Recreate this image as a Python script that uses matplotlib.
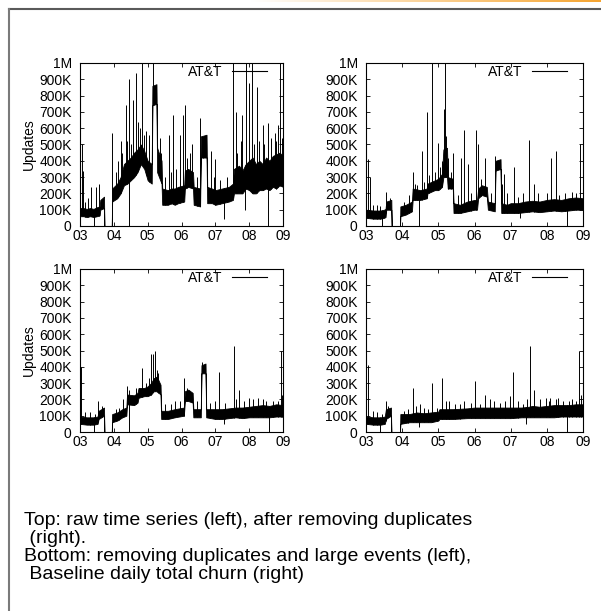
import numpy as np
import matplotlib
matplotlib.use("Agg")
import matplotlib.pyplot as plt
from matplotlib.lines import Line2D
from matplotlib.colors import LinearSegmentedColormap

plt.rcParams['font.family'] = ['Liberation Sans', 'DejaVu Sans']

# values are thousands of updates per day; band = daily low/high envelope
year_ticks = [2003, 2004, 2005, 2006, 2007, 2008, 2009]
year_labels = ['03', '04', '05', '06', '07', '08', '09']
update_ticks = [0, 100, 200, 300, 400, 500, 600, 700, 800, 900, 1000]
update_labels = ['0', '100K', '200K', '300K', '400K', '500K',
                 '600K', '700K', '800K', '900K', '1M']
series_name = 'AT&T'

# --- raw time series (top left) ---
raw_t = [2003.0, 2003.1, 2003.2, 2003.3, 2003.4, 2003.5, 2003.58, 2003.6, 2003.71, 2003.72,
         2003.94, 2003.95, 2004.1, 2004.2, 2004.3, 2004.4, 2004.5, 2004.6, 2004.7, 2004.8,
         2004.9, 2005.0, 2005.12, 2005.14, 2005.26, 2005.28, 2005.41, 2005.43, 2005.6, 2005.7,
         2005.8, 2005.9, 2006.08, 2006.1, 2006.2, 2006.34, 2006.36, 2006.55, 2006.57, 2006.74,
         2006.76, 2006.9, 2007.0, 2007.2, 2007.4, 2007.52, 2007.55, 2007.7, 2007.8, 2007.9,
         2008.0, 2008.1, 2008.2, 2008.3, 2008.4, 2008.5, 2008.6, 2008.7, 2008.8, 2008.9,
         2009.0]
raw_low = [60, 60, 55, 60, 55, 60, 65, 100, 110, 0,
           0, 150, 170, 200, 250, 260, 280, 300, 330, 380,
           350, 280, 260, 740, 750, 330, 260, 130, 130, 140,
           130, 140, 150, 230, 240, 230, 130, 120, 420, 420,
           140, 140, 130, 140, 150, 160, 200, 200, 200, 230,
           220, 200, 200, 220, 220, 230, 220, 240, 230, 250,
           240]
raw_high = [110, 110, 105, 110, 105, 115, 120, 160, 180, 0,
            0, 230, 260, 300, 380, 400, 420, 450, 470, 500,
            460, 400, 380, 860, 870, 480, 400, 230, 220, 230,
            230, 240, 250, 340, 350, 330, 240, 230, 550, 560,
            240, 230, 220, 230, 240, 260, 350, 370, 340, 380,
            400, 420, 380, 400, 380, 420, 400, 430, 440, 450,
            430]
raw_spike_t = [2003.05, 2003.08, 2003.15, 2003.25, 2003.32, 2003.48, 2003.55, 2003.95,
               2004.05, 2004.12, 2004.2, 2004.25, 2004.35, 2004.4, 2004.45, 2004.52,
               2004.58, 2004.65, 2004.72, 2004.78, 2004.82, 2004.88, 2004.95, 2005.05,
               2005.17, 2005.35, 2005.4, 2005.52, 2005.62, 2005.68, 2005.75, 2005.85,
               2005.95, 2006.05, 2006.1, 2006.15, 2006.25, 2006.3, 2006.45, 2006.55,
               2006.63, 2006.88, 2006.95, 2007.0, 2007.15, 2007.35, 2007.53, 2007.6,
               2007.65, 2007.75, 2007.8, 2007.92, 2008.0, 2008.08, 2008.15, 2008.22,
               2008.3, 2008.4, 2008.45, 2008.55, 2008.65, 2008.75, 2008.8, 2008.85,
               2008.92, 2008.97]
raw_spike_v = [500, 340, 150, 170, 240, 240, 260, 570,
               330, 400, 520, 450, 740, 520, 900, 500,
               770, 940, 640, 600, 1100, 560, 580, 560,
               1100, 540, 450, 300, 560, 330, 680, 350,
               560, 680, 740, 420, 450, 500, 300, 660,
               520, 460, 300, 410, 280, 300, 1100, 700,
               450, 520, 680, 1100, 880, 1100, 500, 850,
               520, 620, 500, 630, 540, 570, 520, 620,
               1100, 540]
raw_dip_t = [2003.42, 2004.46, 2007.27, 2007.88, 2008.57]
raw_dip_v = [0, 0, 45, 100, 0]

# --- duplicates removed (top right) ---
nodup_t = [2003.0, 2003.2, 2003.4, 2003.5, 2003.54, 2003.56, 2003.7, 2003.71, 2003.94, 2003.95,
           2004.1, 2004.27, 2004.29, 2004.5, 2004.68, 2004.7, 2004.9, 2005.0, 2005.1, 2005.14,
           2005.24, 2005.26, 2005.4, 2005.42, 2005.6, 2005.8, 2006.0, 2006.07, 2006.1, 2006.2,
           2006.34, 2006.37, 2006.56, 2006.58, 2006.72, 2006.74, 2006.9, 2007.0, 2007.2, 2007.4,
           2007.6, 2007.8, 2008.0, 2008.2, 2008.4, 2008.6, 2008.8, 2009.0]
nodup_low = [50, 45, 45, 50, 55, 100, 100, 0, 0, 60,
             70, 90, 160, 160, 170, 200, 220, 220, 240, 300,
             300, 230, 230, 80, 80, 90, 100, 100, 170, 190,
             180, 100, 90, 340, 350, 80, 80, 80, 80, 85,
             90, 85, 90, 95, 90, 95, 100, 100]
nodup_high = [100, 95, 95, 100, 105, 150, 160, 0, 0, 120,
              130, 150, 230, 220, 230, 260, 280, 290, 320, 470,
              480, 300, 290, 140, 130, 150, 160, 160, 230, 250,
              240, 150, 140, 400, 410, 140, 130, 140, 140, 150,
              155, 150, 160, 165, 160, 170, 175, 170]
nodup_spike_t = [2003.06, 2003.12, 2003.2, 2003.3, 2003.4, 2003.55, 2003.65, 2004.05,
                 2004.2, 2004.31, 2004.36, 2004.42, 2004.54, 2004.6, 2004.68, 2004.75,
                 2004.82, 2004.9, 2004.98, 2005.05, 2005.1, 2005.16, 2005.18, 2005.22,
                 2005.28, 2005.35, 2005.41, 2005.55, 2005.63, 2005.71, 2005.83, 2005.9,
                 2006.03, 2006.11, 2006.18, 2006.3, 2006.45, 2006.57, 2006.75, 2006.82,
                 2006.9, 2007.08, 2007.2, 2007.35, 2007.52, 2007.65, 2007.75, 2008.0,
                 2008.12, 2008.24, 2008.35, 2008.5, 2008.7, 2008.8, 2008.91]
nodup_spike_v = [410, 300, 130, 130, 120, 210, 170, 150,
                 190, 330, 260, 250, 460, 270, 700, 310,
                 1100, 330, 510, 360, 400, 720, 1100, 550,
                 420, 330, 450, 190, 420, 590, 380, 200,
                 590, 500, 290, 420, 200, 430, 260, 320,
                 200, 360, 180, 200, 530, 260, 200, 200,
                 420, 460, 190, 200, 210, 200, 500]
nodup_dip_t = [2003.43, 2004.46, 2007.27, 2008.56]
nodup_dip_v = [0, 0, 50, 0]

# --- duplicates and large events removed (bottom left) ---
clean_t = [2003.0, 2003.2, 2003.4, 2003.52, 2003.55, 2003.71, 2003.72, 2003.94, 2003.95, 2004.1,
           2004.25, 2004.37, 2004.39, 2004.6, 2004.7, 2004.73, 2004.9, 2005.0, 2005.1, 2005.18,
           2005.27, 2005.38, 2005.4, 2005.6, 2005.8, 2006.07, 2006.1, 2006.2, 2006.33, 2006.35,
           2006.57, 2006.59, 2006.71, 2006.73, 2007.0, 2007.2, 2007.4, 2007.6, 2007.8, 2008.0,
           2008.2, 2008.4, 2008.6, 2008.8, 2009.0]
clean_low = [50, 45, 45, 50, 80, 100, 0, 0, 60, 70,
             90, 100, 170, 165, 180, 210, 220, 220, 230, 250,
             250, 230, 80, 80, 90, 100, 190, 190, 180, 90,
             90, 360, 360, 90, 80, 80, 85, 90, 85, 90,
             90, 90, 90, 95, 95]
clean_high = [95, 90, 90, 95, 130, 150, 0, 0, 110, 120,
              140, 150, 230, 225, 240, 270, 270, 280, 300, 330,
              340, 290, 130, 130, 140, 150, 250, 260, 240, 140,
              140, 410, 420, 140, 140, 140, 145, 150, 150, 155,
              160, 165, 160, 170, 165]
clean_spike_t = [2003.04, 2003.15, 2003.29, 2003.45, 2003.53, 2003.65, 2004.05, 2004.15,
                 2004.26, 2004.4, 2004.45, 2004.65, 2004.82, 2004.95, 2005.05, 2005.1,
                 2005.15, 2005.23, 2005.28, 2005.32, 2005.5, 2005.7, 2005.81, 2005.95,
                 2006.06, 2006.15, 2006.31, 2006.45, 2006.6, 2006.85, 2007.0, 2007.1,
                 2007.3, 2007.54, 2007.6, 2007.69, 2007.85, 2007.99, 2008.1, 2008.25,
                 2008.4, 2008.5, 2008.7, 2008.85, 2008.93, 2008.97]
clean_spike_v = [400, 120, 120, 110, 190, 160, 140, 150,
                 200, 280, 260, 270, 390, 300, 330, 480,
                 480, 500, 380, 360, 170, 170, 190, 190,
                 330, 270, 230, 190, 430, 180, 190, 370,
                 180, 530, 200, 260, 190, 210, 200, 210,
                 200, 190, 190, 190, 500, 230]
clean_dip_t = [2003.4, 2004.46, 2007.27, 2008.58]
clean_dip_v = [0, 0, 50, 0]

# --- baseline daily churn (bottom right) ---
base_t = [2003.0, 2003.2, 2003.4, 2003.52, 2003.55, 2003.69, 2003.7, 2003.94, 2003.95, 2004.2,
          2004.4, 2004.6, 2004.8, 2005.0, 2005.03, 2005.4, 2005.8, 2006.0, 2006.4, 2006.8,
          2007.0, 2007.3, 2007.5, 2007.6, 2007.8, 2008.0, 2008.2, 2008.4, 2008.6, 2008.8,
          2009.0]
base_low = [50, 45, 45, 50, 80, 100, 0, 0, 50, 60,
            60, 60, 60, 70, 80, 80, 85, 85, 85, 85,
            85, 90, 90, 90, 90, 90, 90, 95, 95, 95,
            95]
base_high = [95, 90, 90, 95, 140, 150, 0, 0, 110, 110,
             120, 115, 120, 125, 140, 140, 145, 150, 150, 150,
             150, 150, 155, 160, 155, 160, 165, 165, 165, 170,
             170]
base_spike_t = [2003.06, 2003.18, 2003.3, 2003.45, 2003.54, 2003.62, 2004.05, 2004.15,
                2004.3, 2004.38, 2004.49, 2004.6, 2004.72, 2004.83, 2004.95, 2005.1,
                2005.2, 2005.3, 2005.45, 2005.6, 2005.72, 2005.9, 2006.02, 2006.15,
                2006.3, 2006.42, 2006.55, 2006.7, 2006.85, 2006.98, 2007.07, 2007.2,
                2007.35, 2007.45, 2007.53, 2007.65, 2007.8, 2007.97, 2008.05, 2008.1,
                2008.25, 2008.3, 2008.45, 2008.6, 2008.7, 2008.8, 2008.9, 2008.95]
base_spike_v = [410, 130, 120, 110, 190, 160, 130, 140,
                270, 160, 170, 150, 140, 300, 150, 330,
                190, 190, 170, 170, 190, 180, 310, 170,
                230, 200, 190, 180, 190, 220, 370, 190,
                170, 200, 530, 260, 200, 210, 190, 210,
                200, 210, 190, 190, 200, 190, 500, 230]
base_dip_t = [2003.4, 2004.47, 2007.42, 2008.56]
base_dip_v = [0, 30, 50, 0]

caption = ("Top: raw time series (left), after removing duplicates\n"
           " (right).\n"
           "Bottom: removing duplicates and large events (left),\n"
           " Baseline daily total churn (right)")

W, H = 601, 611
fig = plt.figure(figsize=(W / 100, H / 100), dpi=100)


def draw_panel(px, t, low, high, spike_t, spike_v, dip_t, dip_v, ylabel):
    x0, y0, x1, y1 = px
    ax = fig.add_axes([x0 / W, 1 - y1 / H, (x1 - x0) / W, (y1 - y0) / H])
    ax.fill_between(t, low, high, color='black', lw=0.6)
    ax.vlines(spike_t, np.interp(spike_t, t, low), spike_v, color='black', lw=0.7)
    ax.vlines(dip_t, dip_v, np.interp(dip_t, t, high), color='black', lw=0.7)

    ax.set_xlim(year_ticks[0], year_ticks[-1])
    ax.set_ylim(0, 1000)
    ax.set_xticks(year_ticks)
    ax.set_xticklabels(year_labels)
    ax.set_yticks(update_ticks)
    ax.set_yticklabels(update_labels)
    ax.tick_params(direction='in', top=True, right=True, length=3,
                   width=0.6, labelsize=10, pad=2)
    ax.tick_params(axis='y', pad=6)
    for s in ax.spines.values():
        s.set_linewidth(0.8)
    if ylabel:
        ax.set_ylabel('Updates', fontsize=10, labelpad=2)
    handle = Line2D([], [], color='black', lw=0.8)
    ax.legend([handle], [series_name], loc='upper right', frameon=False,
              markerfirst=False, handlelength=2.5, handletextpad=0.7,
              fontsize=10, borderaxespad=0,
              bbox_to_anchor=(1 - 10.4 / (x1 - x0), 1 + 3.9 / (y1 - y0)))
    return ax


draw_panel((80, 63, 283, 226), raw_t, raw_low, raw_high,
           raw_spike_t, raw_spike_v, raw_dip_t, raw_dip_v, True)
draw_panel((366, 63, 583, 226), nodup_t, nodup_low, nodup_high,
           nodup_spike_t, nodup_spike_v, nodup_dip_t, nodup_dip_v, False)
draw_panel((80, 269, 283, 432), clean_t, clean_low, clean_high,
           clean_spike_t, clean_spike_v, clean_dip_t, clean_dip_v, True)
draw_panel((366, 269, 583, 432), base_t, base_low, base_high,
           base_spike_t, base_spike_v, base_dip_t, base_dip_v, False)

fig.text(24 / W, 1 - 512 / H, caption, fontsize=14, va='top', ha='left',
         linespacing=1.08)

# slide frame
fig.add_artist(Line2D([8.5 / W, 1], [1 - 8.5 / H] * 2, color='#5a5a5a', lw=1.5))
fig.add_artist(Line2D([8.5 / W] * 2, [0, 1 - 8.5 / H], color='#7a7a7a', lw=1.5))
bar = fig.add_axes([250 / W, 1 - 2.5 / H, 351 / W, 2.5 / H])
bar.imshow(np.linspace(0, 1, 200)[None, :], aspect='auto',
           cmap=LinearSegmentedColormap.from_list('o', ['white', '#f6a531']))
bar.axis('off')

fig.savefig('out.png', dpi=100)
